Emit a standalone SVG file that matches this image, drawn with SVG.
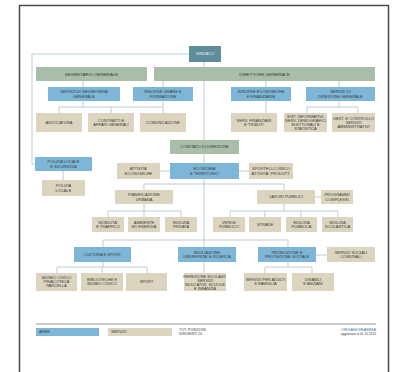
<svg xmlns="http://www.w3.org/2000/svg" width="395" height="372" viewBox="0 0 395 372">
<style>
.top{fill:#5f8e9a}
.dir{fill:#a8bea8}
.area{fill:#7db6d6}
.srv{fill:#dcd4be}
text{font-family:"Liberation Sans",Arial,sans-serif;font-size:4px;fill:#3a3a3a;text-anchor:middle}
.h{font-size:4.4px}
.w{fill:#e6eef0}
.c{fill:none;stroke:#b9cdd7;stroke-width:1}
</style>
<rect x="0" y="0" width="395" height="372" fill="#ffffff"/>
<path d="M19.5 372 V5.5 H388.5 V372" fill="none" stroke="#4a4a4a" stroke-width="1.5"/>
<g id="connectors" class="c">
<path d="M189 54 H32 V164 H35"/>
<path d="M204 62 V273"/>
<path d="M83 81 V87 M163 81 V87 M266 81 V87 M339 81 V87"/>
<path d="M83 101 V107 M59 107 H163 M59 107 V113 M111 107 V113 M163 101 V113"/>
<path d="M266 101 V113"/>
<path d="M339 101 V107 M307 107 H358 M307 107 V113 M358 107 V113"/>
<path d="M63 171 V180"/>
<path d="M160 171 H170 M239 171 H249"/>
<path d="M144 190 V184 H284 V190"/>
<path d="M315 197 H321"/>
<path d="M144 204 V211 M108 211 H181 M108 211 V217 M144 211 V217 M181 211 V217"/>
<path d="M284 204 V211 M230 211 H338 M230 211 V217 M265 211 V217 M301 211 V217 M338 211 V217"/>
<path d="M103 247 V240 H288 V247"/>
<path d="M316 255 H327"/>
<path d="M103 262 V267 M57 267 H147 M57 267 V273 M102 267 V273 M147 267 V273"/>
<path d="M288 262 V267 M265 267 H312 M265 267 V273 M312 267 V273"/>
</g>
<g id="sindaco"><rect class="top" x="189" y="46" width="32" height="16"/><text class="w" x="205" y="55.4">SINDACO</text></g>
<g id="segretario"><rect class="dir" x="36" y="67" width="111" height="14"/><text class="h" x="91.5" y="75.5">SEGRETARIO GENERALE</text></g>
<g id="direttore"><rect class="dir" x="154" y="67" width="221" height="14"/><text class="h" x="264.5" y="75.5">DIRETTORE GENERALE</text></g>
<g id="serv-segreteria"><rect class="area" x="48" y="87" width="72" height="14"/><text x="84" y="93">SERVIZI DI SEGRETERIA</text><text x="84" y="97.5">GENERALE</text></g>
<g id="risorse-umane"><rect class="area" x="133" y="87" width="60" height="14"/><text x="163" y="93">RISORSE UMANE E</text><text x="163" y="97.5">FORMAZIONE</text></g>
<g id="risorse-economiche"><rect class="area" x="231" y="87" width="60" height="14"/><text x="261" y="93">RISORSE ECONOMICHE</text><text x="261" y="97.5">E FINANZIARIE</text></g>
<g id="serv-direzione"><rect class="area" x="306" y="87" width="69" height="14"/><text x="340.5" y="93">SERVIZI DI</text><text x="340.5" y="97.5">DIREZIONE GENERALE</text></g>
<g id="avvocatura"><rect class="srv" x="36" y="113" width="46" height="19"/><text x="59" y="123.9">AVVOCATURA</text></g>
<g id="contratti"><rect class="srv" x="88" y="113" width="46" height="19"/><text x="111" y="121.6">CONTRATTI E</text><text x="111" y="126.1">AFFARI GENERALI</text></g>
<g id="comunicazione"><rect class="srv" x="140" y="113" width="46" height="19"/><text x="163" y="123.9">COMUNICAZIONE</text></g>
<g id="serv-finanziari"><rect class="srv" x="231" y="113" width="46" height="19"/><text x="254" y="121.6">SERV. FINANZIARI</text><text x="254" y="126.1">E TRIBUTI</text></g>
<g id="sistemi-informativi"><rect class="srv" x="284" y="113" width="43" height="19"/><text x="305.5" y="117.6">SIST. INFORMATIVI,</text><text x="305.5" y="121.6">SERV. DEMOGRAFICI</text><text x="305.5" y="125.6">ELETTORALI E</text><text x="305.5" y="129.6">STATISTICA</text></g>
<g id="gestione-controllo"><rect class="srv" x="332" y="113" width="43" height="19"/><text x="353.5" y="119.6">GEST. E CONTROLLO</text><text x="353.5" y="123.6">SERVIZI</text><text x="353.5" y="127.6">AMMINISTRATIVI</text></g>
<g id="comitato"><rect class="dir" x="170" y="140" width="69" height="14"/><text x="204.5" y="148.4">COMITATO DI DIREZIONE</text></g>
<g id="polizia-sicurezza"><rect class="area" x="35" y="157" width="57" height="14"/><text x="63.5" y="163">POLIZIA LOCALE</text><text x="63.5" y="167.5">E SICUREZZA</text></g>
<g id="polizia-locale"><rect class="srv" x="42" y="180" width="43" height="16"/><text x="63.5" y="187.2">POLIZIA</text><text x="63.5" y="191.7">LOCALE</text></g>
<g id="attivita-economiche"><rect class="srv" x="117" y="163" width="43" height="16"/><text x="138.5" y="170.2">ATTIVITA'</text><text x="138.5" y="174.7">ECONOMICHE</text></g>
<g id="economia-territorio"><rect class="area" x="170" y="163" width="69" height="16"/><text x="204.5" y="170.2">ECONOMIA</text><text x="204.5" y="174.7">E TERRITORIO</text></g>
<g id="sportello-unico"><rect class="srv" x="249" y="163" width="44" height="16"/><text x="271" y="170.2">SPORTELLO UNICO</text><text x="271" y="174.7">ATTIVITA' PRODUTT.</text></g>
<g id="pianificazione"><rect class="srv" x="115" y="190" width="58" height="14"/><text x="144" y="196">PIANIFICAZIONE</text><text x="144" y="200.5">URBANA</text></g>
<g id="lavori-pubblici"><rect class="srv" x="257" y="190" width="58" height="14"/><text x="286" y="198.4">LAVORI PUBBLICI</text></g>
<g id="programmi-complessi"><rect class="srv" x="321" y="190" width="32" height="14"/><text x="337" y="196">PROGRAMMI</text><text x="337" y="200.5">COMPLESSI</text></g>
<g id="mobilita"><rect class="srv" x="92" y="217" width="32" height="15"/><text x="108" y="223.5">MOBILITA'</text><text x="108" y="228">E TRAFFICO</text></g>
<g id="ambiente"><rect class="srv" x="128" y="217" width="32" height="15"/><text x="144" y="223.5">AMBIENTE</text><text x="144" y="228">ED ENERGIA</text></g>
<g id="edilizia-privata"><rect class="srv" x="165" y="217" width="32" height="15"/><text x="181" y="223.5">EDILIZIA</text><text x="181" y="228">PRIVATA</text></g>
<g id="verde-pubblico"><rect class="srv" x="213" y="217" width="32" height="15"/><text x="229" y="223.5">VERDE</text><text x="229" y="228">PUBBLICO</text></g>
<g id="strade"><rect class="srv" x="249" y="217" width="32" height="15"/><text x="265" y="225.9">STRADE</text></g>
<g id="edilizia-pubblica"><rect class="srv" x="286" y="217" width="31" height="15"/><text x="301.5" y="223.5">EDILIZIA</text><text x="301.5" y="228">PUBBLICA</text></g>
<g id="edilizia-scolastica"><rect class="srv" x="322" y="217" width="31" height="15"/><text x="337.5" y="223.5">EDILIZIA</text><text x="337.5" y="228">SCOLASTICA</text></g>
<g id="cultura-sport"><rect class="area" x="74" y="247" width="57" height="15"/><text x="102.5" y="255.9">CULTURA E SPORT</text></g>
<g id="educazione"><rect class="area" x="178" y="247" width="58" height="15"/><text x="207" y="253.5">EDUCAZIONE</text><text x="207" y="258">UNIVERSITA' E RICERCA</text></g>
<g id="promozione-sociale"><rect class="area" x="258" y="247" width="58" height="15"/><text x="287" y="253.5">PROMOZIONE E</text><text x="287" y="258">PROTEZIONE SOCIALE</text></g>
<g id="servizi-sociali"><rect class="srv" x="327" y="247" width="48" height="15"/><text x="351" y="253.5">SERVIZI SOCIALI</text><text x="351" y="258">COMUNALI</text></g>
<g id="museo"><rect class="srv" x="36" y="273" width="41" height="18"/><text x="56.5" y="279">MUSEO CIVICO</text><text x="56.5" y="283">PINACOTECA</text><text x="56.5" y="287">PARCELLA</text></g>
<g id="biblioteche"><rect class="srv" x="81" y="273" width="42" height="18"/><text x="102" y="280.7">BIBLIOTECHE E</text><text x="102" y="285.2">MUSEO CIVICO</text></g>
<g id="sport"><rect class="srv" x="126" y="273" width="41" height="18"/><text x="146.5" y="283.4">SPORT</text></g>
<g id="refezione"><rect class="srv" x="184" y="273" width="42" height="18"/><text x="205" y="277.6">REFEZIONE SCOLAST.</text><text x="205" y="281.6">SERVIZI</text><text x="205" y="285.6">EDUCATIVI, SCUOLE</text><text x="205" y="289.6">E INFANZIA</text></g>
<g id="adulti-famiglia"><rect class="srv" x="244" y="273" width="43" height="18"/><text x="265.5" y="280.7">SERVIZI PER ADULTI</text><text x="265.5" y="285.2">E FAMIGLIA</text></g>
<g id="disabili-anziani"><rect class="srv" x="292" y="273" width="42" height="18"/><text x="313" y="280.7">DISABILI</text><text x="313" y="285.2">E ANZIANI</text></g>
<g id="legend">
<line x1="36" y1="324" x2="376" y2="324" stroke="#9a9a9a" stroke-width="1.2"/>
<rect class="area" x="36" y="328" width="63" height="8"/><text x="39" y="333.4" style="text-anchor:start">AREE</text>
<rect class="srv" x="108" y="328" width="64" height="8"/><text x="111" y="333.4" style="text-anchor:start">SERVIZI</text>
<text x="179" y="330.5" style="text-anchor:start;font-size:3.6px">TOT. POSIZIONI</text>
<text x="179" y="334.5" style="text-anchor:start;font-size:3.6px">DIRIGENTI 20</text>
<text x="376" y="331" style="text-anchor:end;font-size:4.2px;fill:#3d7ea6">ORGANIGRAMMA</text>
<text x="376" y="335" style="text-anchor:end;font-size:3.2px">aggiornato al 01.10.2013</text>
</g>
</svg>
